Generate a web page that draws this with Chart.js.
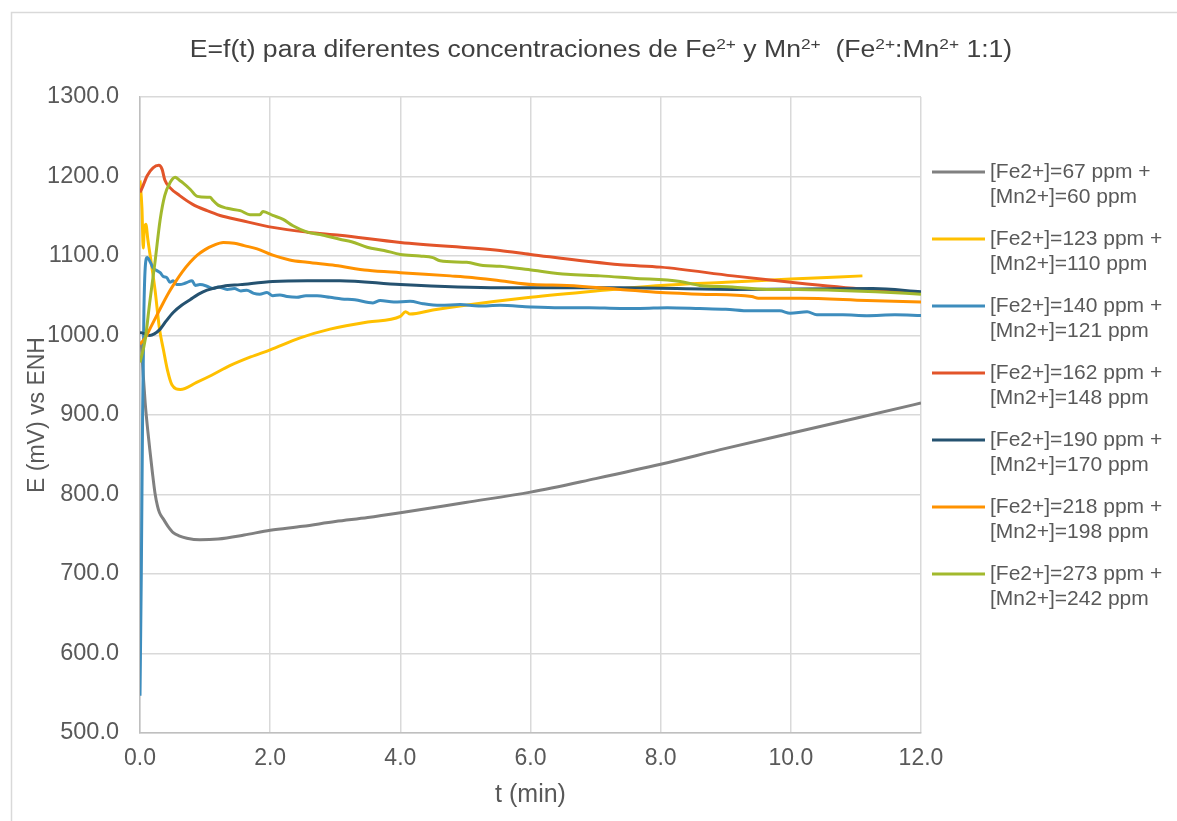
<!DOCTYPE html>
<html>
<head>
<meta charset="utf-8">
<script src="https://cdn.jsdelivr.net/npm/chart.js@4/dist/chart.umd.min.js"></script>
<style>
  html, body { margin: 0; padding: 0; background: #fff; }
  canvas { display: block; }
</style>
</head>
<body>
<canvas id="potChart" width="1177" height="821"></canvas>
<script>
// concentrations for the legend text
const feConc = [67, 123, 140, 162, 190, 218, 273];
const mnConc = [60, 110, 121, 148, 170, 198, 242];
const seriesColors = ['#808080', '#FFC000', '#3E8DBD', '#E2542A', '#255270', '#FF9200', '#A2B92D'];

// Series 1: Fe 67 / Mn 60
const t1 = [0.02, 0.05, 0.08, 0.12, 0.15, 0.19, 0.23, 0.27, 0.3, 0.36, 0.43, 0.51, 0.6, 0.72, 0.92, 1.2, 1.6, 2, 2.5, 3, 3.5, 4, 5, 6, 7, 8, 9, 10, 11, 12];
const e1 = [990, 950, 915, 880, 857, 828, 802, 785, 777, 769, 760, 752, 748, 745, 743, 744, 749, 755, 760, 766, 771, 777, 790, 803, 820, 838, 858, 877, 896, 915];

// Series 2: Fe 123 / Mn 110
const t2 = [0, 0.03, 0.05, 0.065, 0.09, 0.12, 0.15, 0.23, 0.3, 0.36, 0.42, 0.49, 0.62, 0.87, 1.1, 1.38, 1.7, 2, 2.46, 2.92, 3.5, 4.0, 4.08, 4.15, 4.5, 5, 6, 7, 8, 9, 10, 11.1];
const e2 = [1195, 1160, 1110, 1133, 1140, 1121, 1104, 1058, 1008, 982, 957, 938, 932, 941, 950, 962, 973, 982, 997, 1008, 1017, 1024, 1030, 1027, 1032, 1038, 1048, 1056, 1063, 1067, 1071, 1075];

// Series 3: Fe 140 / Mn 121
const t3 = [0, 0.02, 0.04, 0.06, 0.08, 0.11, 0.16, 0.2, 0.25, 0.31, 0.36, 0.41, 0.46, 0.51, 0.56, 0.61, 0.7, 0.8, 0.85, 0.92, 1.03, 1.12, 1.2, 1.34, 1.45, 1.55, 1.64, 1.75, 1.84, 1.95, 2.04, 2.15, 2.26, 2.41, 2.55, 2.72, 2.92, 3.1, 3.3, 3.58, 3.69, 3.9, 4.15, 4.35, 4.61, 4.92, 5.2, 5.53, 6.0, 6.45, 6.9, 7.38, 7.68, 8.1, 8.6, 9.0, 9.37, 9.83, 9.99, 10.25, 10.4, 10.8, 11.17, 11.6, 12];
const e3 = [547, 700, 900, 1030, 1085, 1098, 1092, 1085, 1082, 1079, 1074, 1073, 1067, 1069, 1064, 1064, 1066, 1069, 1063, 1064, 1062, 1059, 1061, 1058, 1059, 1056, 1057, 1053, 1052, 1054, 1050, 1051, 1049, 1048, 1050, 1050, 1048, 1046, 1045, 1041, 1044, 1042, 1043, 1040, 1038, 1039, 1037, 1038, 1036, 1035, 1035, 1034, 1034, 1035, 1034, 1033, 1031, 1031, 1028, 1030, 1026, 1026, 1025, 1026, 1025];

// Series 4: Fe 162 / Mn 148
const t4 = [0, 0.03, 0.11, 0.2, 0.29, 0.34, 0.38, 0.46, 0.61, 0.81, 1.03, 1.23, 1.54, 2.04, 2.57, 3.07, 4, 5.53, 6, 7.38, 8, 9.11, 10, 11.17, 12];
const e4 = [1180, 1185, 1201, 1211, 1214, 1209, 1196, 1186, 1176, 1165, 1157, 1151, 1145, 1136, 1130, 1126, 1117, 1107, 1102, 1089, 1086, 1075, 1067, 1058, 1054];

// Series 5: Fe 190 / Mn 170
const t5 = [0, 0.08, 0.15, 0.22, 0.31, 0.4, 0.51, 0.64, 0.77, 0.9, 1.03, 1.28, 1.54, 2.04, 2.57, 3.07, 4, 5.53, 7.38, 9.11, 11.26, 12];
const e5 = [1004, 1002, 1000, 1002, 1008, 1018, 1029, 1038, 1045, 1052, 1057, 1062, 1064, 1068, 1069, 1069, 1064, 1060, 1060, 1058, 1059, 1055];

// Series 6: Fe 218 / Mn 198
const t6 = [0, 0.08, 0.15, 0.25, 0.35, 0.45, 0.55, 0.65, 0.77, 0.88, 1.0, 1.12, 1.28, 1.45, 1.6, 1.8, 2.04, 2.3, 2.57, 3.0, 3.5, 4, 4.77, 5.1, 5.53, 6.04, 6.56, 7.38, 8, 8.6, 9.4, 9.5, 10.15, 11.17, 12];
const e6 = [989, 997, 1008, 1024, 1040, 1055, 1068, 1080, 1092, 1101, 1108, 1113, 1117, 1116, 1113, 1109, 1101, 1095, 1092, 1088, 1082, 1079, 1075, 1073, 1069, 1064, 1063, 1058, 1054, 1052, 1049, 1047, 1047, 1044, 1042];

// Series 7: Fe 273 / Mn 242
const t7 = [0, 0.08, 0.15, 0.23, 0.31, 0.38, 0.46, 0.54, 0.61, 0.66, 0.77, 0.88, 1.03, 1.08, 1.12, 1.2, 1.34, 1.54, 1.69, 1.84, 1.89, 2.04, 2.2, 2.35, 2.57, 2.77, 3.07, 3.25, 3.49, 3.75, 4, 4.3, 4.5, 4.61, 5.02, 5.27, 5.53, 6.04, 6.56, 7.07, 7.58, 8.3, 8.6, 9.1, 9.63, 10.1, 10.65, 11.3, 12];
const e7 = [966, 995, 1042, 1092, 1146, 1176, 1192, 1199, 1195, 1192, 1184, 1175, 1174, 1174, 1170, 1164, 1160, 1157, 1152, 1152, 1156, 1151, 1146, 1138, 1130, 1127, 1121, 1118, 1111, 1107, 1102, 1100, 1098, 1094, 1092, 1088, 1087, 1082, 1077, 1075, 1072, 1068, 1063, 1061, 1058, 1058, 1057, 1055, 1052];

const allT = [t1, t2, t3, t4, t5, t6, t7];
const allE = [e1, e2, e3, e4, e5, e6, e7];

const textGray = '#595959';
const fontFam = '"Liberation Sans", Arial, sans-serif';

// build datasets (later series on top, like the original)
const datasets = allT.map((ts, i) => ({
    label: '[Fe2+]=' + feConc[i] + ' ppm + [Mn2+]=' + mnConc[i] + ' ppm',
    data: ts.map((t, k) => ({ x: t, y: allE[i][k] })),
    borderColor: seriesColors[i],
    borderWidth: 3,
    pointRadius: 0,
    cubicInterpolationMode: 'monotone',
    order: 7 - i
}));

// white background + thin frame around the chart
const framePlugin = {
    id: 'frame',
    beforeDraw(chart) {
        const c = chart.ctx;
        c.save();
        c.fillStyle = '#fff';
        c.fillRect(0, 0, chart.width, chart.height);
        c.strokeStyle = '#d9d9d9';
        c.lineWidth = 1.5;
        c.beginPath();
        c.moveTo(11.5, chart.height);
        c.lineTo(11.5, 12.5);
        c.lineTo(chart.width, 12.5);
        c.stroke();
        c.restore();
    }
};

// title with real superscripts (slightly widened like the original)
const titleParts = [
    ['E=f(t) para diferentes concentraciones de Fe', false], ['2+', true],
    [' y Mn', false], ['2+', true],
    ['  (Fe', false], ['2+', true], [':Mn', false], ['2+', true],
    [' 1:1)', false]
];
const titlePlugin = {
    id: 'supTitle',
    afterDraw(chart) {
        const c = chart.ctx;
        const big = '23px ' + fontFam, small = '15px ' + fontFam;
        const stretch = 1.155;
        c.save();
        c.fillStyle = '#404040';
        c.textBaseline = 'alphabetic';
        let w = 0;
        titleParts.forEach(p => { c.font = p[1] ? small : big; w += c.measureText(p[0]).width; });
        c.translate(601 - w * stretch / 2, 0);
        c.scale(stretch, 1);
        let x = 0;
        const base = 57;
        titleParts.forEach(p => {
            c.font = p[1] ? small : big;
            c.fillText(p[0], x, p[1] ? base - 8 : base);
            x += c.measureText(p[0]).width;
        });
        c.restore();
    }
};

// two-line legend on the right
const legendPlugin = {
    id: 'sideLegend',
    afterDraw(chart) {
        const c = chart.ctx;
        c.save();
        c.font = '21px ' + fontFam;
        c.fillStyle = textGray;
        c.textBaseline = 'middle';
        feConc.forEach((fe, i) => {
            const y = 172 + i * 67;
            c.strokeStyle = seriesColors[i];
            c.lineWidth = 3;
            c.beginPath();
            c.moveTo(932, y);
            c.lineTo(985, y);
            c.stroke();
            c.fillText('[Fe2+]=' + fe + ' ppm +', 990, y);
            c.fillText('[Mn2+]=' + mnConc[i] + ' ppm', 990, y + 25);
        });
        c.restore();
    }
};

const ctx = document.getElementById('potChart').getContext('2d');
const potChart = new Chart(ctx, {
    type: 'line',
    data: { datasets: datasets },
    options: {
        responsive: false,
        animation: false,
        layout: { padding: { left: 12, right: 256, top: 97, bottom: 0 } },
        plugins: {
            legend: { display: false },
            title: { display: false },
            tooltip: { enabled: false }
        },
        scales: {
            x: {
                type: 'linear',
                min: 0,
                max: 12,
                afterFit: s => { s.height = 88; },
                ticks: {
                    stepSize: 2,
                    padding: 12,
                    color: textGray,
                    font: { family: fontFam, size: 23 },
                    callback: v => v.toFixed(1)
                },
                grid: { color: '#d9d9d9', lineWidth: 1.5, drawTicks: false },
                border: { color: '#bfbfbf', width: 1.5 },
                title: {
                    display: true,
                    text: 't (min)',
                    color: textGray,
                    font: { family: fontFam, size: 25 },
                    padding: { top: 0, bottom: 11 }
                }
            },
            y: {
                min: 500,
                max: 1300,
                afterFit: s => { s.width = 128; },
                ticks: {
                    stepSize: 100,
                    padding: 21,
                    color: textGray,
                    font: { family: fontFam, size: 23.5 },
                    callback: v => v.toFixed(1)
                },
                grid: { color: '#d9d9d9', lineWidth: 1.5, drawTicks: false },
                border: { color: '#bfbfbf', width: 1.5 },
                title: {
                    display: true,
                    text: 'E (mV) vs ENH',
                    color: textGray,
                    font: { family: fontFam, size: 23 },
                    padding: { top: 12, bottom: 0 }
                }
            }
        }
    },
    plugins: [framePlugin, titlePlugin, legendPlugin]
});
</script>
</body>
</html>
